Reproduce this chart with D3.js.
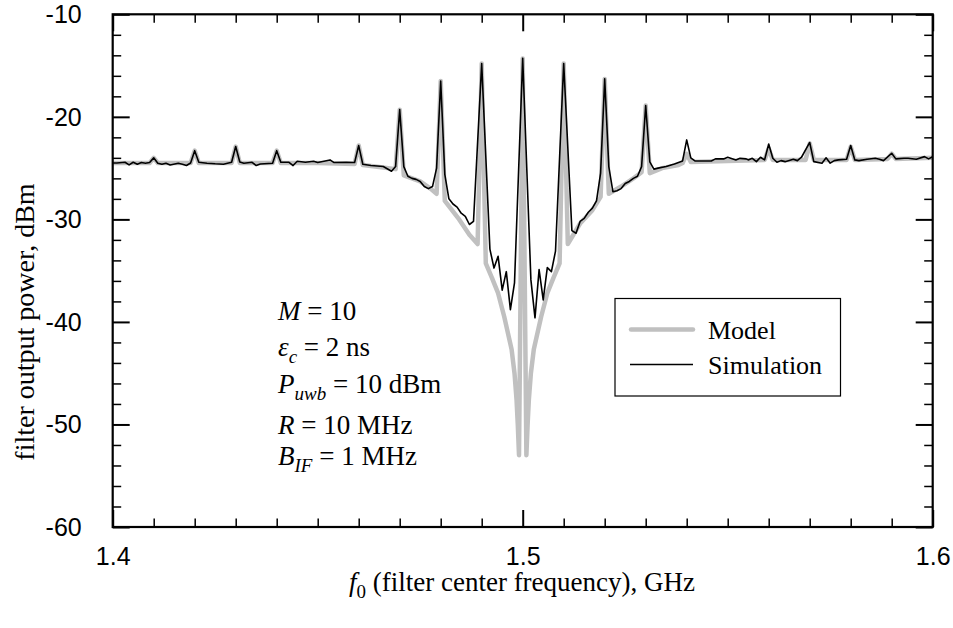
<!DOCTYPE html>
<html><head><meta charset="utf-8">
<script src="https://cdn.jsdelivr.net/npm/d3@7/dist/d3.min.js"></script>
<style>body{margin:0;background:#fff}</style>
</head><body>
<svg id="chart" width="953" height="628"></svg>
<script>
// ---- data ----
const yMajorTicks = [-60, -50, -40, -30, -20, -10];
const xMajorTicks = [1.4, 1.5, 1.6];
const xTickLabels = ["1.4", "1.5", "1.6"];

const modelF = [1.400,1.409,1.410,1.411,1.419,1.420,1.421,1.429,1.430,1.431,1.439,1.440,1.441,1.450,1.459,1.460,1.461,1.465,1.469,1.470,1.471,1.475,1.4775,1.479,1.480,1.481,1.4845,1.487,1.489,1.490,1.491,1.4925,1.494,1.4955,1.4973,1.498,1.4985,1.4988,1.4991,1.500,1.5009,1.5012,1.5015,1.502,1.5027,1.5045,1.506,1.5075,1.509,1.510,1.511,1.514,1.517,1.519,1.520,1.521,1.524,1.527,1.529,1.530,1.531,1.534,1.538,1.539,1.540,1.541,1.550,1.559,1.560,1.561,1.569,1.570,1.571,1.579,1.580,1.581,1.589,1.590,1.591,1.600];
const modelV = [-24.5,-24.5,-24.0,-24.5,-24.5,-23.3,-24.5,-24.5,-22.9,-24.5,-24.5,-23.3,-24.5,-24.5,-24.6,-22.8,-24.7,-24.9,-25.1,-19.3,-25.7,-26.3,-27.0,-27.5,-16.5,-28.2,-30.0,-31.5,-32.4,-14.8,-34.3,-35.7,-37.2,-39.5,-42.7,-45.0,-47.6,-50.0,-53.0,-14.3,-53.0,-50.0,-47.6,-45.0,-42.7,-39.5,-37.2,-35.7,-34.3,-14.8,-32.4,-30.4,-29.1,-27.8,-16.3,-27.5,-26.8,-26.0,-25.4,-18.9,-25.5,-25.0,-24.7,-24.5,-23.6,-24.4,-24.3,-24.2,-23.1,-24.2,-24.2,-22.6,-24.2,-24.2,-22.9,-24.2,-24.1,-23.6,-24.1,-24.0];

const simF = [1.400,1.401,1.403,1.404,1.405,1.406,1.407,1.408,1.409,1.410,1.411,1.412,1.413,1.414,1.416,1.417,1.418,1.419,1.420,1.421,1.423,1.425,1.427,1.429,1.430,1.431,1.432,1.434,1.435,1.436,1.439,1.440,1.441,1.443,1.444,1.445,1.447,1.449,1.450,1.453,1.454,1.457,1.459,1.460,1.461,1.463,1.466,1.468,1.469,1.470,1.471,1.472,1.473,1.474,1.475,1.476,1.477,1.478,1.479,1.480,1.481,1.482,1.483,1.484,1.485,1.486,1.487,1.488,1.490,1.492,1.493,1.494,1.495,1.496,1.497,1.498,1.500,1.502,1.503,1.504,1.505,1.506,1.507,1.508,1.510,1.512,1.513,1.514,1.515,1.516,1.517,1.518,1.519,1.520,1.521,1.522,1.523,1.524,1.525,1.526,1.527,1.528,1.529,1.530,1.531,1.532,1.533,1.535,1.537,1.539,1.540,1.541,1.542,1.544,1.546,1.547,1.549,1.550,1.552,1.553,1.5545,1.555,1.556,1.557,1.558,1.559,1.560,1.561,1.562,1.563,1.564,1.566,1.567,1.568,1.570,1.571,1.573,1.574,1.575,1.576,1.577,1.579,1.580,1.581,1.582,1.584,1.586,1.587,1.588,1.590,1.591,1.593,1.594,1.596,1.598,1.599,1.600];
const simV = [-24.5,-24.5,-24.43,-24.69,-24.43,-24.62,-24.46,-24.52,-24.45,-24.0,-24.52,-24.62,-24.52,-24.69,-24.52,-24.62,-24.75,-24.5,-23.3,-24.43,-24.52,-24.58,-24.62,-24.43,-22.9,-24.4,-24.52,-24.43,-24.75,-24.6,-24.52,-23.3,-24.43,-24.43,-24.75,-24.33,-24.43,-24.33,-24.46,-24.2,-24.46,-24.43,-24.46,-22.8,-24.62,-24.75,-24.85,-25.3,-24.85,-19.3,-24.85,-25.8,-26.0,-26.1,-26.3,-26.8,-27.0,-26.8,-25.0,-16.5,-25.6,-28.0,-28.5,-28.8,-29.4,-29.7,-30.5,-30.2,-14.8,-32.9,-34.75,-33.6,-36.9,-35.1,-38.8,-36.2,-14.3,-35.9,-39.6,-34.9,-37.85,-34.7,-35.1,-33.1,-14.8,-31.1,-31.35,-30.2,-29.9,-29.3,-28.9,-28.2,-25.5,-16.3,-24.85,-27.3,-27.2,-27.0,-26.5,-26.3,-26.0,-25.8,-24.85,-18.9,-24.4,-25.1,-25.0,-24.85,-24.6,-24.3,-22.25,-24.0,-24.3,-24.3,-24.3,-24.1,-24.1,-23.95,-24.2,-24.05,-24.1,-24.2,-24.04,-24.37,-23.94,-24.2,-22.65,-24.04,-24.43,-24.27,-24.37,-24.13,-24.27,-23.94,-22.5,-24.37,-24.52,-24.0,-24.52,-24.27,-24.2,-24.13,-22.8,-24.2,-24.27,-24.13,-24.04,-24.13,-24.27,-23.55,-24.1,-24.04,-24.04,-24.13,-23.88,-24.1,-23.9];

const seriesNames = ["Model", "Simulation"];

// ---- drawing ----
const svg = d3.select("#chart");
const L = 112.7, R = 932.7, T = 14.3, B = 527;
const x = d3.scaleLinear().domain([1.4, 1.6]).range([L, R]);
const y = d3.scaleLinear().domain([-60, -10]).range([B, T]);

const xMinor = d3.range(0, 21).filter(i => i % 10 !== 0).map(i => 1.4 + i * 0.01);
const yMinor = d3.range(-60, -9, 2).filter(v => v % 10 !== 0);

const serif = "'Liberation Serif','Times New Roman',serif";
const sans = "'Liberation Sans',Arial,sans-serif";

function styleAxis(g, w) {
  g.select(".domain").remove();
  g.selectAll(".tick line").attr("stroke", "#000").attr("stroke-width", w);
}
// minor ticks
svg.append("g").attr("transform", `translate(0,${B})`).call(d3.axisBottom(x).tickValues(xMinor).tickSize(-8.5).tickFormat("")).call(g => styleAxis(g, 1.5));
svg.append("g").attr("transform", `translate(0,${T})`).call(d3.axisTop(x).tickValues(xMinor).tickSize(-8.5).tickFormat("")).call(g => styleAxis(g, 1.5));
svg.append("g").attr("transform", `translate(${L},0)`).call(d3.axisLeft(y).tickValues(yMinor).tickSize(-8.5).tickFormat("")).call(g => styleAxis(g, 1.5));
svg.append("g").attr("transform", `translate(${R},0)`).call(d3.axisRight(y).tickValues(yMinor).tickSize(-8.5).tickFormat("")).call(g => styleAxis(g, 1.5));
// major ticks
const xb = svg.append("g").attr("transform", `translate(0,${B})`).call(d3.axisBottom(x).tickValues(xMajorTicks).tickSize(-17).tickPadding(20).tickFormat((d,i) => xTickLabels[i]));
styleAxis(xb, 2);
xb.selectAll("text").attr("font-family", sans).attr("font-size", 25).attr("fill", "#000");
svg.append("g").attr("transform", `translate(0,${T})`).call(d3.axisTop(x).tickValues(xMajorTicks).tickSize(-17).tickFormat("")).call(g => styleAxis(g, 2));
const yl = svg.append("g").attr("transform", `translate(${L},0)`).call(d3.axisLeft(y).tickValues(yMajorTicks).tickSize(-17).tickPadding(31).tickFormat(d3.format("d")));
styleAxis(yl, 2);
yl.selectAll("text").attr("font-family", sans).attr("font-size", 25).attr("fill", "#000").attr("dy", "0.34em").text(d => "-" + Math.abs(d));
svg.append("g").attr("transform", `translate(${R},0)`).call(d3.axisRight(y).tickValues(yMajorTicks).tickSize(-17).tickFormat("")).call(g => styleAxis(g, 2));

// clip
svg.append("clipPath").attr("id", "clip").append("rect").attr("x", L).attr("y", T).attr("width", R - L).attr("height", B - T);

const modelData = modelF.map((f, i) => [f, modelV[i]]);
const simData = simF.map((f, i) => [f, simV[i]]);
const line = d3.line().x(d => x(d[0])).y(d => y(d[1]));

svg.append("path").datum(modelData).attr("d", line).attr("fill", "none").attr("stroke", "#c0c0c0").attr("stroke-width", 4.5).attr("stroke-linejoin", "round").attr("stroke-linecap", "round").attr("clip-path", "url(#clip)");
svg.append("path").datum(simData).attr("d", line).attr("fill", "none").attr("stroke", "#000").attr("stroke-width", 1.6).attr("stroke-linejoin", "round").attr("clip-path", "url(#clip)");

// frame
svg.append("rect").attr("x", L).attr("y", T).attr("width", R - L).attr("height", B - T).attr("fill", "none").attr("stroke", "#000").attr("stroke-width", 2.2);

// legend
const lg = svg.append("g");
lg.append("rect").attr("x", 615).attr("y", 298.5).attr("width", 225.5).attr("height", 97.5).attr("fill", "#fff").attr("stroke", "#000").attr("stroke-width", 1.2);
lg.append("line").attr("x1", 631).attr("x2", 693).attr("y1", 329.5).attr("y2", 329.5).attr("stroke", "#c0c0c0").attr("stroke-width", 4.5).attr("stroke-linecap", "round");
lg.append("line").attr("x1", 630).attr("x2", 693).attr("y1", 364.5).attr("y2", 364.5).attr("stroke", "#000").attr("stroke-width", 1.6);
lg.append("text").attr("x", 708).attr("y", 339).attr("font-family", serif).attr("font-size", 26).text(seriesNames[0]);
lg.append("text").attr("x", 708).attr("y", 374).attr("font-family", serif).attr("font-size", 26).text(seriesNames[1]);

// annotations
const ann = svg.append("g").attr("font-family", serif).attr("font-size", 27);
function annLine(yy, parts) {
  const t = ann.append("text").attr("x", 278).attr("y", yy);
  parts.forEach(p => {
    const s = t.append("tspan").text(p.t);
    if (p.i) s.attr("font-style", "italic");
    if (p.sub) s.attr("font-size", 19).attr("dy", 7);
    if (p.up) s.attr("dy", -7);
  });
}
annLine(320, [{t: "M", i: 1}, {t: " = 10"}]);
annLine(356, [{t: "ε", i: 1}, {t: "c", i: 1, sub: 1}, {t: " = 2 ns", up: 1}]);
annLine(393, [{t: "P", i: 1}, {t: "uwb", i: 1, sub: 1}, {t: " = 10 dBm", up: 1}]);
annLine(434, [{t: "R", i: 1}, {t: " = 10 MHz"}]);
annLine(465, [{t: "B", i: 1}, {t: "IF", i: 1, sub: 1}, {t: " = 1 MHz", up: 1}]);

// axis titles
const xt = svg.append("text").attr("x", 522).attr("y", 591).attr("text-anchor", "middle").attr("font-family", serif).attr("font-size", 27);
xt.append("tspan").attr("font-style", "italic").text("f");
xt.append("tspan").attr("font-size", 19).attr("dy", 7).text("0");
xt.append("tspan").attr("dy", -7).text(" (filter center frequency), GHz");

svg.append("text").attr("transform", `translate(34,322) rotate(-90)`).attr("text-anchor", "middle").attr("font-family", serif).attr("font-size", 28).text("filter output power, dBm");
</script>
</body></html>
